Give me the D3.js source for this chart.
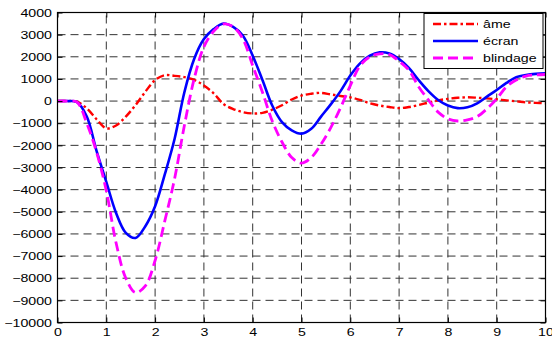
<!DOCTYPE html>
<html>
<head>
<meta charset="utf-8">
<script src="https://cdn.jsdelivr.net/npm/d3@7"></script>
<style>
  body { margin: 0; background: #fff; }
  svg { display: block; }
  text { font-family: "Liberation Sans", Arial, Helvetica, sans-serif; }
</style>
</head>
<body>
<svg id="chart" width="552" height="341"></svg>
<script>
// Temps (s)
const time = [0, 0.2, 0.4, 0.6, 0.8, 1, 1.2, 1.4, 1.6, 1.8, 2, 2.2, 2.4, 2.6, 2.8, 3, 3.2, 3.4, 3.6, 3.8,
              4, 4.2, 4.4, 4.6, 4.8, 5, 5.2, 5.4, 5.6, 5.8, 6, 6.2, 6.4, 6.6, 6.8, 7, 7.2, 7.4, 7.6, 7.8,
              8, 8.2, 8.4, 8.6, 8.8, 9, 9.2, 9.4, 9.6, 9.8, 10];

// Courant dans l'âme
const ame = [0, 0, -30, -330, -820, -1230, -1100, -700, -180, 420, 950, 1170, 1140, 1080, 960, 700, 350, -130, -360, -500,
             -560, -530, -390, -190, 70, 250, 330, 370, 300, 230, 170, 50, -100, -200, -270, -320, -270, -180, -70, 30,
             100, 150, 170, 150, 120, 80, 30, -10, -60, -80, -100];

// Courant dans l'écran
const ecran = [0, 0, -50, -700, -2250, -3650, -5050, -5950, -6180, -5650, -4750, -3300, -1700, 400, 1900, 2800, 3250, 3500, 3350, 2950,
               2050, 950, -200, -950, -1320, -1470, -1250, -700, -150, 450, 1150, 1700, 2050, 2200, 2150, 1900, 1500, 950, 450, 50,
               -200, -320, -280, -100, 200, 500, 820, 1080, 1180, 1230, 1250];

// Courant dans le blindage
const blindage = [0, 0, -50, -1000, -2300, -4050, -6400, -8000, -8650, -8350, -7200, -5400, -3500, -1100, 1000, 2450, 3150, 3480, 3350, 2800,
                  1600, 400, -900, -1850, -2550, -2800, -2550, -1950, -1200, -300, 700, 1600, 2000, 2130, 2100, 1800, 1400, 650, 50, -500,
                  -800, -900, -850, -700, -350, 100, 650, 950, 1130, 1180, 1200];

const xTicks = [0, 1, 2, 3, 4, 5, 6, 7, 8, 9, 10];
const yTicks = [-10000, -9000, -8000, -7000, -6000, -5000, -4000, -3000, -2000, -1000, 0, 1000, 2000, 3000, 4000];

const seriesNames = ["âme", "écran", "blindage"];
const seriesData = [ame, ecran, blindage];
const seriesColors = ["#ff0000", "#0000ff", "#ff00ff"];
const seriesDash = ["8,3,2.5,3", null, "10,5"];
const seriesWidth = [2.4, 2.6, 2.8];

const plot = { left: 57.5, right: 545.5, top: 12.5, bottom: 322.5 };
const svg = d3.select("#chart");

const x = d3.scaleLinear().domain([0, 10]).range([plot.left, plot.right]);
const y = d3.scaleLinear().domain([-10000, 4000]).range([plot.bottom, plot.top]);

const fontSize = 10.5;
const stretch = 1.35;
const fmt = d3.format("d");

// grid
const grid = svg.append("g").attr("stroke", "#333").attr("stroke-width", 1).attr("stroke-dasharray", "8,5");
grid.selectAll("line.v").data(xTicks.slice(1, -1)).join("line")
  .attr("x1", d => x(d)).attr("x2", d => x(d))
  .attr("y1", plot.bottom).attr("y2", plot.top);
grid.selectAll("line.h").data(yTicks.slice(1, -1)).join("line")
  .attr("y1", d => y(d)).attr("y2", d => y(d))
  .attr("x1", plot.left).attr("x2", plot.right);

// curves
const line = d3.line().curve(d3.curveCatmullRom.alpha(0.5));
const curves = svg.append("g").attr("fill", "none");
seriesData.forEach((vals, i) => {
  curves.append("path")
    .attr("d", line(vals.map((v, j) => [x(time[j]), y(v)])))
    .attr("stroke", seriesColors[i])
    .attr("stroke-width", seriesWidth[i])
    .attr("stroke-dasharray", seriesDash[i])
    .attr("stroke-linejoin", "round");
});

// axes with inward ticks on all four sides
const tickLen = 5;
function styleText(g) {
  g.selectAll("text").attr("font-size", fontSize).attr("fill", "#000");
}
const axBottom = svg.append("g").attr("transform", `translate(0,${plot.bottom})`)
  .call(d3.axisBottom(x).tickValues(xTicks).tickFormat(fmt).tickSizeInner(-tickLen).tickSizeOuter(0).tickPadding(0));
axBottom.selectAll("text")
  .attr("y", 0).attr("dy", null)
  .attr("transform", `translate(0,13.5) scale(${stretch},1)`);
const axLeft = svg.append("g").attr("transform", `translate(${plot.left},0)`)
  .call(d3.axisLeft(y).tickValues(yTicks).tickFormat(fmt).tickSizeInner(-tickLen).tickSizeOuter(0).tickPadding(0));
axLeft.selectAll("text")
  .attr("x", 0).attr("dy", "0.35em")
  .attr("transform", `translate(-5.5,0) scale(${stretch},1)`);
const axTop = svg.append("g").attr("transform", `translate(0,${plot.top})`)
  .call(d3.axisTop(x).tickValues(xTicks).tickSizeInner(-tickLen).tickSizeOuter(0).tickFormat(""));
const axRight = svg.append("g").attr("transform", `translate(${plot.right},0)`)
  .call(d3.axisRight(y).tickValues(yTicks).tickSizeInner(-tickLen).tickSizeOuter(0).tickFormat(""));
[axBottom, axLeft, axTop, axRight].forEach(g => {
  g.select(".domain").remove();
  g.selectAll(".tick line").attr("stroke", "#000");
  styleText(g);
});

// frame
svg.append("rect")
  .attr("x", plot.left).attr("y", plot.top)
  .attr("width", plot.right - plot.left).attr("height", plot.bottom - plot.top)
  .attr("fill", "none").attr("stroke", "#000").attr("stroke-width", 1.2);

// legend
const legend = svg.append("g").attr("transform", "translate(424,13.5)");
legend.append("rect").attr("width", 119).attr("height", 55)
  .attr("fill", "#fff").attr("stroke", "#000").attr("stroke-width", 1);
seriesNames.forEach((name, i) => {
  const ly = 10.5 + i * 17;
  legend.append("line")
    .attr("x1", 9).attr("x2", 54).attr("y1", ly).attr("y2", ly)
    .attr("stroke", seriesColors[i]).attr("stroke-width", seriesWidth[i])
    .attr("stroke-dasharray", seriesDash[i]);
  legend.append("text")
    .attr("transform", `translate(59,${ly}) scale(${stretch},1)`)
    .attr("dy", "0.35em").attr("font-size", fontSize).attr("fill", "#000")
    .text(name);
});
</script>
</body>
</html>
